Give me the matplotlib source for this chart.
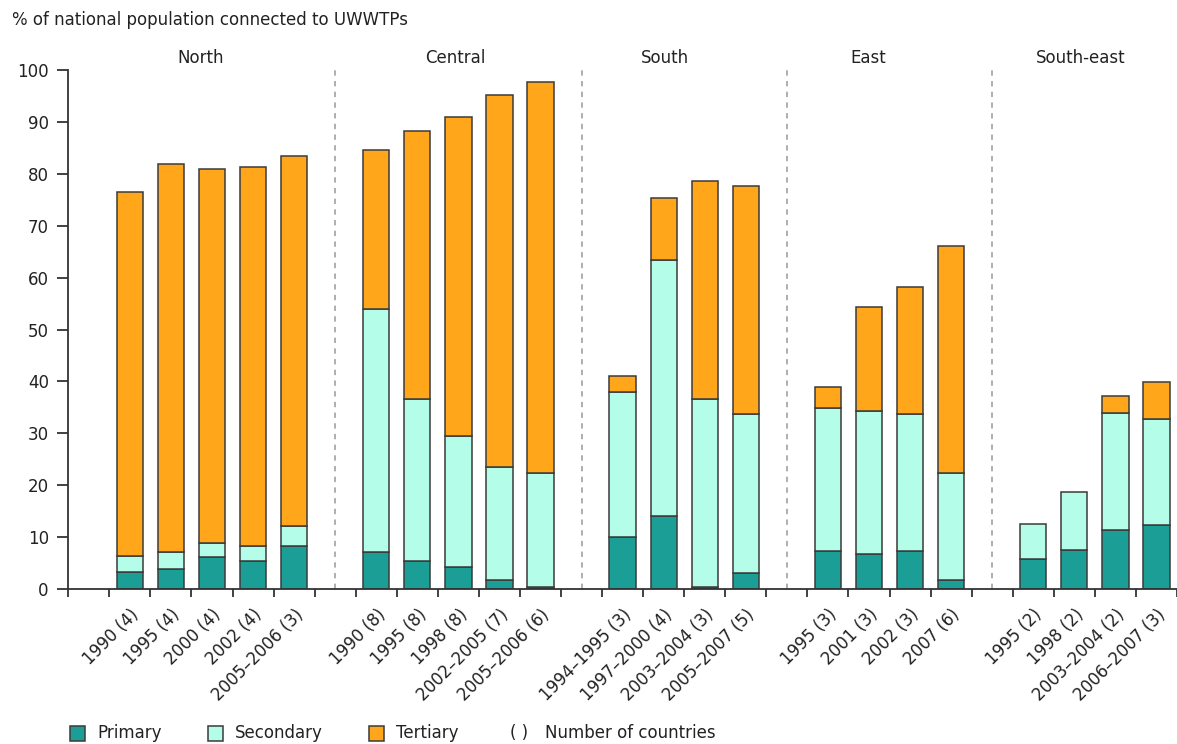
import numpy as np
import matplotlib.pyplot as plt
from matplotlib.patches import Rectangle

regions = ['North', 'Central', 'South', 'East', 'South-east']
region_sizes = [5, 5, 4, 4, 4]
region_label_x = [2.72, 8.92, 14.04, 18.98, 24.15]

periods = ['1990 (4)', '1995 (4)', '2000 (4)', '2002 (4)', '2005–2006 (3)',
           '1990 (8)', '1995 (8)', '1998 (8)', '2002–2005 (7)', '2005–2006 (6)',
           '1994–1995 (3)', '1997–2000 (4)', '2003–2004 (3)', '2005–2007 (5)',
           '1995 (3)', '2001 (3)', '2002 (3)', '2007 (6)',
           '1995 (2)', '1998 (2)', '2003–2004 (2)', '2006–2007 (3)']

primary = [3.3, 3.85, 6.1, 5.4, 8.2,
           7.1, 5.4, 4.2, 1.7, 0.45,
           10.1, 14.1, 0.45, 3.0,
           7.3, 6.7, 7.3, 1.7,
           5.7, 7.6, 11.4, 12.3]
secondary = [3.1, 3.25, 2.7, 2.8, 4.0,
             46.8, 31.3, 25.3, 21.9, 21.85,
             27.9, 49.2, 36.25, 30.8,
             27.6, 27.6, 26.5, 20.6,
             6.8, 11.0, 22.6, 20.5]
tertiary = [70.1, 74.8, 72.1, 73.2, 71.2,
            30.7, 51.5, 61.5, 71.5, 75.3,
            3.1, 12.0, 42.0, 43.8,
            4.1, 20.0, 24.3, 43.7,
            0, 0, 3.2, 7.1]

C_PRIM = '#1a9e96'
C_SEC = '#b4fde8'
C_TER = '#ffa61a'
EDGE = '#3a3a3a'
TXT = '#222222'
FS = 12

# bar positions: one empty slot in front of every region
xpos = []
seps = []
slot = 0
for n in region_sizes:
    if slot > 0:
        seps.append(slot)
    slot += 1
    for j in range(n):
        xpos.append(slot)
        slot += 1
xpos = np.array(xpos)

fig = plt.figure(figsize=(11.77, 7.44), dpi=100)
ax = fig.add_axes([0.058, 0.2083, 0.942, 0.6976])

p = np.array(primary)
s = np.array(secondary)
t = np.array(tertiary)
w = 0.64
ax.bar(xpos, p, w, color=C_PRIM, edgecolor=EDGE, linewidth=1.1)
ax.bar(xpos, s, w, bottom=p, color=C_SEC, edgecolor=EDGE, linewidth=1.1)
ax.bar(xpos[t > 0], t[t > 0], w, bottom=(p + s)[t > 0], color=C_TER,
       edgecolor=EDGE, linewidth=1.1)

for x in seps:
    ax.plot([x, x], [0, 100.3], color='#999999', lw=1.1, ls=(0, (3.5, 3.5)),
            clip_on=False, zorder=0)

for name, lx in zip(regions, region_label_x):
    ax.text(lx, 100.6, name, ha='center', va='bottom', fontsize=FS, color=TXT)

ax.set_xlim(-0.5, slot - 0.56)
ax.set_ylim(0, 100)
ax.set_yticks(np.arange(0, 101, 10))
ax.tick_params(axis='y', length=8, width=1.3, color='#333333', labelsize=FS,
               labelcolor=TXT, pad=6)

ax.set_xticks(xpos)
ax.set_xticklabels(periods, rotation=45, ha='right', rotation_mode='anchor',
                   fontsize=FS, color=TXT)
ax.tick_params(axis='x', which='major', length=0, pad=12)
ax.set_xticks(np.arange(-0.5, slot, 1), minor=True)
ax.tick_params(axis='x', which='minor', length=6, width=1.3, color='#333333')

for side in ['top', 'right']:
    ax.spines[side].set_visible(False)
for side in ['left', 'bottom']:
    ax.spines[side].set_color('#333333')
    ax.spines[side].set_linewidth(1.3)

fig.text(0.010, 0.973, '% of national population connected to UWWTPs',
         fontsize=FS, color=TXT, va='center')

# legend along the bottom edge
leg_y = 0.0145
sq = 15
for x0, col, lab in [(70, C_PRIM, 'Primary'), (208, C_SEC, 'Secondary'),
                     (369, C_TER, 'Tertiary')]:
    fig.patches.append(Rectangle((x0 / 1177, leg_y - 0.5 * sq / 744), sq / 1177, sq / 744,
                                 transform=fig.transFigure, facecolor=col,
                                 edgecolor=EDGE, linewidth=1.1))
    fig.text((x0 + 27) / 1177, leg_y, lab, fontsize=FS, color=TXT, va='center')
fig.text(510 / 1177, leg_y, '( )', fontsize=FS, color=TXT, va='center')
fig.text(545 / 1177, leg_y, 'Number of countries', fontsize=FS, color=TXT,
         va='center')

fig.savefig('out.png', dpi=100)
